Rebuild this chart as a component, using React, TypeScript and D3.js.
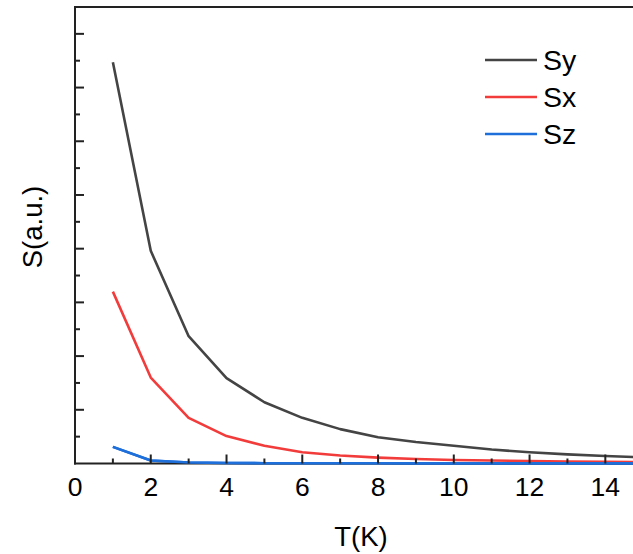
import React from "react";
import * as d3 from "d3";

const temps = [1, 2, 3, 4, 5, 6, 7, 8, 9, 10, 11, 12, 13, 14, 15];
const sy = [7.47, 3.96, 2.37, 1.59, 1.14, 0.85, 0.64, 0.49, 0.4, 0.33, 0.26, 0.21, 0.17, 0.14, 0.115];
const sx = [3.2, 1.6, 0.85, 0.51, 0.33, 0.21, 0.15, 0.11, 0.084, 0.065, 0.055, 0.046, 0.037, 0.03, 0.027];
const sz = [0.31, 0.056, 0.02, 0.01, 0.006, 0.005, 0.004, 0.004, 0.003, 0.003, 0.003, 0.003, 0.003, 0.003, 0.003];
const seriesNames = ["Sy", "Sx", "Sz"];
const seriesColors = ["#444444", "#F23C3C", "#1F6FDB"];
const xTicks = [0, 2, 4, 6, 8, 10, 12, 14];
const xMinorTicks = [1, 3, 5, 7, 9, 11, 13, 15];
const yMajorTicks = [1, 2, 3, 4, 5, 6, 7, 8];
const yMinorTicks = [0.5, 1.5, 2.5, 3.5, 4.5, 5.5, 6.5, 7.5];

const W = 633;
const H = 554;
const left = 75;
const bottom = 463.5;
const top = 7;

export default function App() {
  const x = d3.scaleLinear().domain([0, 15]).range([left, left + 15 * 37.88]);
  const y = d3.scaleLinear().domain([0, 8.5]).range([bottom, top]);
  const allSeries = [sy, sx, sz];
  const line = (vals: number[]) =>
    d3
      .line<number>()
      .x((_, i) => x(temps[i]))
      .y((v) => y(v))(vals) as string;
  const font = "'Liberation Sans', Arial, sans-serif";
  const legendY = [60, 97, 134];
  return (
    <svg
      width={W}
      height={H}
      style={{ position: "absolute", left: 0, top: 0, background: "#fff" }}
      fontFamily={font}
    >
      {allSeries
        .map((vals, i) => (
          <path
            key={seriesNames[i]}
            d={line(vals)}
            fill="none"
            stroke={seriesColors[i]}
            strokeWidth={2.6}
            strokeLinejoin="round"
          />
        ))
        .reverse()}
      <line x1={left} x2={W} y1={top} y2={top} stroke="#222" strokeWidth={2} />
      <line x1={left} x2={left} y1={top - 1} y2={bottom + 1} stroke="#222" strokeWidth={2} />
      <line x1={left - 1} x2={W} y1={bottom} y2={bottom} stroke="#222" strokeWidth={2} />
      <path d={line(sz)} fill="none" stroke={seriesColors[2]} strokeWidth={2.6} />
      {yMajorTicks.map((t) => (
        <line key={"ym" + t} x1={left} x2={left + 9} y1={y(t)} y2={y(t)} stroke="#222" strokeWidth={2} />
      ))}
      {yMinorTicks.map((t) => (
        <line key={"yn" + t} x1={left} x2={left + 5} y1={y(t)} y2={y(t)} stroke="#222" strokeWidth={2} />
      ))}
      {xTicks.map((t) => (
        <g key={"xm" + t}>
          {t > 0 && (
            <line x1={x(t)} x2={x(t)} y1={bottom} y2={bottom - 9} stroke="#222" strokeWidth={2} />
          )}
          <text x={x(t)} y={496} fontSize={26.5} textAnchor="middle" fill="#000">
            {t}
          </text>
        </g>
      ))}
      {xMinorTicks.map((t) => (
        <line key={"xn" + t} x1={x(t)} x2={x(t)} y1={bottom} y2={bottom - 5} stroke="#222" strokeWidth={2} />
      ))}
      <text x={361} y={546} fontSize={27.5} textAnchor="middle" fill="#000">
        T(K)
      </text>
      <text
        x={0}
        y={0}
        fontSize={27.5}
        textAnchor="middle"
        fill="#000"
        transform="translate(42,227) rotate(-90)"
      >
        S(a.u.)
      </text>
      {seriesNames.map((n, i) => (
        <g key={"lg" + n}>
          <line x1={485} x2={537} y1={legendY[i]} y2={legendY[i]} stroke={seriesColors[i]} strokeWidth={2.6} />
          <text x={543} y={legendY[i] + 10} fontSize={28.5} fill="#000">
            {n}
          </text>
        </g>
      ))}
    </svg>
  );
}
